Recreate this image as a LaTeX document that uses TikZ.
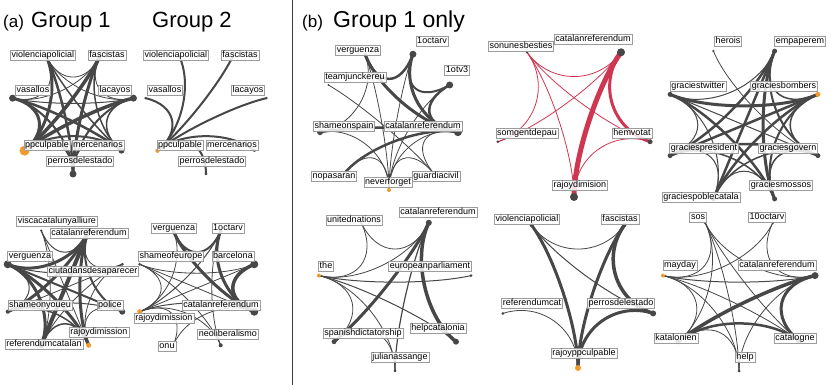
\documentclass[tikz,border=0pt]{standalone}
\usepackage{fontspec}
\setmainfont{Liberation Sans}
\usepackage{xcolor}
\definecolor{netgray}{HTML}{474747}
\definecolor{netorange}{HTML}{F39A2C}
\definecolor{netred}{HTML}{CF3652}
\definecolor{boxgray}{HTML}{9C9C9C}
\definecolor{rulegray}{HTML}{3A3A3A}
\usepackage{tikz}
\usetikzlibrary{
  calc,
  backgrounds,
}

% curved tie between two hashtags, pulled toward the panel centre
\newcommand{\tagedge}[5][]{%
  \draw[tagline, line width=#3pt, #1]
    (#4.center) .. controls ($(#4)!0.5!(#2)$) and ($(#5)!0.5!(#2)$) .. (#5.center);}

\begin{document}
\begin{tikzpicture}[
  x=1pt, y=1pt,
  vtx/.style={
    circle,
    fill=netgray,
    inner sep=0pt,
    minimum size=#1pt,
  },
  hubvtx/.style={
    vtx=#1,
    fill=netorange,
  },
  tagline/.style={
    draw=netgray,
    line cap=round,
  },
  redline/.style={
    draw=netred,
  },
  tagbox/.style={
    draw=boxgray,
    line width=0.5pt,
    fill=white,
    fill opacity=0.85,
    text opacity=1,
    inner xsep=1.3pt,
    inner ysep=0.6pt,
    text height=6.5pt,
    text depth=1.9pt,
    font=\fontsize{9}{10}\selectfont,
  },
  paneltitle/.style={
    anchor=base west,
    inner sep=0pt,
    font=\fontsize{22}{24}\selectfont,
  },
  panelletter/.style={
    anchor=base west,
    inner sep=0pt,
    font=\fontsize{17}{19}\selectfont,
  },
]

\useasboundingbox (0,0) rectangle (831,385);
\begin{scope}[on background layer]
  \fill[white] (0,0) rectangle (831,385);
\end{scope}

% =============================================================================
% Titles and separator
% =============================================================================
\node[panelletter] (lettera) at (3,357) {(a)};
\node[paneltitle] (titlea1) at (31,357) {Group 1};
\node[paneltitle] (titlea2) at (152,357) {Group 2};
\node[panelletter] (letterb) at (302,357) {(b)};
\node[paneltitle, font=\fontsize{23}{25}\selectfont] (titleb) at (333,357) {Group 1 only};

\coordinate (ruletop) at (292.5,385);
\coordinate (rulebot) at (292.5,0);
\draw[rulegray, line width=1.5pt] (ruletop) -- (rulebot);

% =============================================================================
% (a) Group 1, top
% =============================================================================
\coordinate (ca1) at (73,273);
\node[vtx=7] (a1pe) at ([shift={(270:62)}]ca1) {};
\node[vtx=6] (a1me) at ([shift={(321.4:62)}]ca1) {};
\node[vtx=7] (a1la) at ([shift={(12.9:62)}]ca1) {};
\node[vtx=4] (a1fa) at ([shift={(64.3:62)}]ca1) {};
\node[vtx=4] (a1vi) at ([shift={(115.7:62)}]ca1) {};
\node[vtx=7] (a1va) at ([shift={(167.1:62)}]ca1) {};
\node[hubvtx=10] (a1pp) at ([shift={(218.6:62)}]ca1) {};

\begin{scope}[on background layer]
  \tagedge{ca1}{3}{a1pp}{a1vi}
  \tagedge{ca1}{3.5}{a1pp}{a1fa}
  \tagedge{ca1}{3}{a1pp}{a1va}
  \tagedge{ca1}{3.5}{a1pp}{a1la}
  \tagedge{ca1}{2}{a1pp}{a1me}
  \tagedge{ca1}{2.5}{a1pp}{a1pe}
  \tagedge{ca1}{0.8}{a1vi}{a1fa}
  \tagedge{ca1}{0.8}{a1vi}{a1va}
  \tagedge{ca1}{0.8}{a1vi}{a1la}
  \tagedge{ca1}{1.5}{a1vi}{a1me}
  \tagedge{ca1}{2.5}{a1vi}{a1pe}
  \tagedge{ca1}{0.8}{a1fa}{a1va}
  \tagedge{ca1}{0.8}{a1fa}{a1la}
  \tagedge{ca1}{1.5}{a1fa}{a1me}
  \tagedge{ca1}{3}{a1fa}{a1pe}
  \tagedge{ca1}{1}{a1va}{a1la}
  \tagedge{ca1}{2.5}{a1va}{a1me}
  \tagedge{ca1}{2}{a1va}{a1pe}
  \tagedge{ca1}{1.5}{a1la}{a1me}
  \tagedge{ca1}{2}{a1la}{a1pe}
  \tagedge{ca1}{1}{a1me}{a1pe}
\end{scope}

\node[tagbox] (l1vi) at (43,330) {violenciapolicial};
\node[tagbox] (l1fa) at (107,330) {fascistas};
\node[tagbox] (l1va) at (33,295) {vasallos};
\node[tagbox] (l1la) at (115,295) {lacayos};
\node[tagbox] (l1pp) at (47,240) {ppculpable};
\node[tagbox] (l1me) at (98,240) {mercenarios};
\node[tagbox] (l1pe) at (80,224) {perrosdelestado};

% =============================================================================
% (a) Group 2, top
% =============================================================================
\coordinate (ca2) at (206,273);
\node[vtx=3] (a2pe) at ([shift={(270:62)}]ca2) {};
\node[vtx=3] (a2me) at ([shift={(321.4:62)}]ca2) {};
\node[vtx=2.5] (a2la) at ([shift={(12.9:62)}]ca2) {};
\node[vtx=2.5] (a2fa) at ([shift={(64.3:62)}]ca2) {};
\node[vtx=2.5] (a2vi) at ([shift={(115.7:62)}]ca2) {};
\node[vtx=2.5] (a2va) at ([shift={(167.1:62)}]ca2) {};
\node[hubvtx=4.5] (a2pp) at ([shift={(218.6:62)}]ca2) {};

\begin{scope}[on background layer]
  \tagedge{ca2}{2}{a2pp}{a2vi}
  \tagedge{ca2}{2}{a2pp}{a2fa}
  \tagedge{ca2}{2}{a2pp}{a2va}
  \tagedge{ca2}{2}{a2pp}{a2la}
  \tagedge{ca2}{2}{a2pp}{a2me}
  \tagedge{ca2}{2}{a2pp}{a2pe}
\end{scope}

\node[tagbox] (l2vi) at (176,330) {violenciapolicial};
\node[tagbox] (l2fa) at (240,330) {fascistas};
\node[tagbox] (l2va) at (165,295) {vasallos};
\node[tagbox] (l2la) at (248,295) {lacayos};
\node[tagbox] (l2pp) at (180,240) {ppculpable};
\node[tagbox] (l2me) at (232,240) {mercenarios};
\node[tagbox] (l2pe) at (212,224) {perrosdelestado};

% =============================================================================
% (a) Group 1, bottom
% =============================================================================
\coordinate (ca3) at (65,97);
\node[vtx=5] (a3cr) at ([shift={(67.5:62)}]ca3) {};
\node[vtx=2.5] (a3vc) at ([shift={(112.5:62)}]ca3) {};
\node[vtx=8] (a3vg) at ([shift={(157.5:62)}]ca3) {};
\node[vtx=4] (a3sh) at ([shift={(202.5:62)}]ca3) {};
\node[vtx=6] (a3rc) at ([shift={(247.5:62)}]ca3) {};
\node[hubvtx=5] (a3rd) at ([shift={(292.5:62)}]ca3) {};
\node[vtx=6] (a3po) at ([shift={(337.5:62)}]ca3) {};
\node[vtx=3] (a3ci) at ([shift={(22.5:62)}]ca3) {};

\begin{scope}[on background layer]
  \tagedge{ca3}{4}{a3cr}{a3rc}
  \tagedge{ca3}{3}{a3cr}{a3sh}
  \tagedge{ca3}{3}{a3cr}{a3vg}
  \tagedge{ca3}{3}{a3cr}{a3rd}
  \tagedge{ca3}{2}{a3cr}{a3po}
  \tagedge{ca3}{1}{a3cr}{a3vc}
  \tagedge{ca3}{0.8}{a3cr}{a3ci}
  \tagedge{ca3}{3}{a3vg}{a3rd}
  \tagedge{ca3}{3}{a3vg}{a3rc}
  \tagedge{ca3}{2}{a3vg}{a3po}
  \tagedge{ca3}{1}{a3vg}{a3ci}
  \tagedge{ca3}{1}{a3vg}{a3sh}
  \tagedge{ca3}{0.8}{a3vc}{a3rd}
  \tagedge{ca3}{0.8}{a3vc}{a3rc}
  \tagedge{ca3}{0.8}{a3ci}{a3sh}
  \tagedge{ca3}{0.8}{a3ci}{a3rc}
  \tagedge{ca3}{0.8}{a3ci}{a3rd}
  \tagedge{ca3}{1.5}{a3sh}{a3rd}
  \tagedge{ca3}{1}{a3sh}{a3po}
  \tagedge{ca3}{0.8}{a3po}{a3rd}
  \tagedge{ca3}{1.5}{a3rc}{a3rd}
\end{scope}

\node[tagbox] (l3vc) at (57,164) {viscacatalunyalliure};
\node[tagbox] (l3cr) at (89,152) {catalanreferendum};
\node[tagbox] (l3vg) at (30,129) {verguenza};
\node[tagbox] (l3ci) at (93,114) {ciutadansdesaparecer};
\node[tagbox] (l3sh) at (40,80) {shameonyoueu};
\node[tagbox] (l3po) at (110,80) {police};
\node[tagbox] (l3rd) at (99,53) {rajoydimission};
\node[tagbox] (l3rc) at (44,41) {referendumcatalan};

% =============================================================================
% (a) Group 2, bottom
% =============================================================================
\coordinate (ca4) at (197,97);
\node[vtx=4] (a4oc) at ([shift={(67.5:62)}]ca4) {};
\node[vtx=4] (a4vg) at ([shift={(112.5:62)}]ca4) {};
\node[vtx=3] (a4se) at ([shift={(157.5:62)}]ca4) {};
\node[hubvtx=5] (a4rd) at ([shift={(202.5:62)}]ca4) {};
\node[vtx=3] (a4on) at ([shift={(247.5:62)}]ca4) {};
\node[vtx=4] (a4ne) at ([shift={(292.5:62)}]ca4) {};
\node[vtx=8] (a4cr) at ([shift={(337.5:62)}]ca4) {};
\node[vtx=8] (a4ba) at ([shift={(22.5:62)}]ca4) {};

\begin{scope}[on background layer]
  \tagedge{ca4}{3}{a4vg}{a4cr}
  \tagedge{ca4}{3}{a4oc}{a4cr}
  \tagedge{ca4}{2}{a4oc}{a4vg}
  \tagedge{ca4}{3.5}{a4cr}{a4ba}
  \tagedge{ca4}{1}{a4oc}{a4rd}
  \tagedge{ca4}{0.8}{a4ba}{a4rd}
  \tagedge{ca4}{1}{a4rd}{a4cr}
  \tagedge{ca4}{0.8}{a4se}{a4rd}
  \tagedge{ca4}{0.8}{a4rd}{a4on}
  \tagedge{ca4}{0.8}{a4rd}{a4ne}
  \tagedge{ca4}{0.8}{a4se}{a4cr}
  \tagedge{ca4}{0.8}{a4se}{a4ne}
  \tagedge{ca4}{0.8}{a4on}{a4cr}
  \tagedge{ca4}{0.8}{a4oc}{a4ne}
  \tagedge{ca4}{0.8}{a4vg}{a4rd}
  \tagedge{ca4}{0.8}{a4ba}{a4se}
\end{scope}

\node[tagbox] (l4vg) at (174,157) {verguenza};
\node[tagbox] (l4oc) at (228,157) {1octarv};
\node[tagbox] (l4se) at (171,129) {shameofeurope};
\node[tagbox] (l4ba) at (233,129) {barcelona};
\node[tagbox] (l4cr) at (221,80) {catalanreferendum};
\node[tagbox] (l4rd) at (164,67) {rajoydimission};
\node[tagbox] (l4ne) at (228,51) {neoliberalismo};
\node[tagbox] (l4on) at (167,39) {onu};

% =============================================================================
% (b) Group 1 only, top left
% =============================================================================
\coordinate (cb1) at (389,265);
\node[hubvtx=4] (b1nf) at ([shift={(270:70)}]cb1) {};
\node[vtx=3] (b1gc) at ([shift={(310:70)}]cb1) {};
\node[vtx=8] (b1cr) at ([shift={(350:70)}]cb1) {};
\node[vtx=7] (b1ot) at ([shift={(30:70)}]cb1) {};
\node[vtx=7] (b1oc) at ([shift={(70:70)}]cb1) {};
\node[vtx=3] (b1vg) at ([shift={(110:70)}]cb1) {};
\node[vtx=2] (b1tj) at ([shift={(150:70)}]cb1) {};
\node[vtx=6] (b1ss) at ([shift={(190:70)}]cb1) {};
\node[vtx=3] (b1np) at ([shift={(230:70)}]cb1) {};

\begin{scope}[on background layer]
  \tagedge{cb1}{3}{b1cr}{b1oc}
  \tagedge{cb1}{2.5}{b1oc}{b1vg}
  \tagedge{cb1}{2.5}{b1cr}{b1ot}
  \tagedge{cb1}{2}{b1ot}{b1oc}
  \tagedge{cb1}{3}{b1cr}{b1vg}
  \tagedge{cb1}{2.5}{b1cr}{b1ss}
  \tagedge{cb1}{2.5}{b1np}{b1cr}
  \tagedge{cb1}{0.8}{b1tj}{b1gc}
  \tagedge{cb1}{0.8}{b1vg}{b1nf}
  \tagedge{cb1}{0.8}{b1oc}{b1nf}
  \tagedge{cb1}{0.8}{b1nf}{b1cr}
  \tagedge{cb1}{0.8}{b1ss}{b1nf}
  \tagedge{cb1}{0.8}{b1nf}{b1gc}
  \tagedge{cb1}{0.8}{b1gc}{b1cr}
  \tagedge{cb1}{0.8}{b1vg}{b1ss}
  \tagedge{cb1}{0.8}{b1nf}{b1ot}
  \tagedge{cb1}{0.8}{b1np}{b1nf}
\end{scope}

\node[tagbox] (m1vg) at (358,335) {verguenza};
\node[tagbox] (m1oc) at (432,344) {1octarv};
\node[tagbox] (m1ot) at (457,315) {1otv3};
\node[tagbox] (m1tj) at (355,308) {teamjunckereu};
\node[tagbox] (m1ss) at (344,259) {shameonspain};
\node[tagbox] (m1cr) at (423,259) {catalanreferendum};
\node[tagbox] (m1np) at (334,209) {nopasaran};
\node[tagbox] (m1nf) at (388,203) {neverforget};
\node[tagbox] (m1gc) at (436,209) {guardiacivil};

% =============================================================================
% (b) Group 1 only, top middle (red)
% =============================================================================
\coordinate (cb2) at (574,268);
\node[vtx=8] (b2rd) at ([shift={(270:80)}]cb2) {};
\node[vtx=5] (b2hv) at ([shift={(342:80)}]cb2) {};
\node[vtx=8] (b2cr) at ([shift={(54:80)}]cb2) {};
\node[vtx=2.5] (b2sb) at ([shift={(126:80)}]cb2) {};
\node[vtx=3] (b2sg) at ([shift={(198:80)}]cb2) {};

\begin{scope}[on background layer]
  \tagedge[redline]{cb2}{5}{b2rd}{b2cr}
  \tagedge[redline]{cb2}{3}{b2hv}{b2cr}
  \tagedge[redline]{cb2}{0.8}{b2cr}{b2sb}
  \tagedge[redline]{cb2}{0.8}{b2sb}{b2sg}
  \tagedge[redline]{cb2}{0.8}{b2hv}{b2sb}
  \tagedge[redline]{cb2}{0.8}{b2sb}{b2rd}
  \tagedge[redline]{cb2}{0.8}{b2cr}{b2sg}
  \tagedge[redline]{cb2}{0.8}{b2rd}{b2hv}
\end{scope}

\node[tagbox] (m2sb) at (521,339) {sonunesbesties};
\node[tagbox] (m2cr) at (593,346) {catalanreferendum};
\node[tagbox] (m2sg) at (527,252) {somgentdepau};
\node[tagbox] (m2hv) at (632,252) {hemvotat};
\node[tagbox] (m2rd) at (580,200) {rajoydimision};

% =============================================================================
% (b) Group 1 only, top right
% =============================================================================
\coordinate (cb3) at (744,260);
\node[vtx=5] (b3em) at ([shift={(67.5:80)}]cb3) {};
\node[vtx=2.5] (b3he) at ([shift={(112.5:80)}]cb3) {};
\node[vtx=5] (b3gt) at ([shift={(157.5:80)}]cb3) {};
\node[vtx=5] (b3gp) at ([shift={(202.5:80)}]cb3) {};
\node[vtx=5] (b3pc) at ([shift={(247.5:80)}]cb3) {};
\node[vtx=5] (b3gm) at ([shift={(292.5:80)}]cb3) {};
\node[vtx=5] (b3gg) at ([shift={(337.5:80)}]cb3) {};
\node[hubvtx=5] (b3gb) at ([shift={(22.5:80)}]cb3) {};

\begin{scope}[on background layer]
  \tagedge{cb3}{3}{b3em}{b3gm}
  \tagedge{cb3}{2.5}{b3em}{b3gp}
  \tagedge{cb3}{2.5}{b3em}{b3pc}
  \tagedge{cb3}{2}{b3gg}{b3em}
  \tagedge{cb3}{1}{b3em}{b3gt}
  \tagedge{cb3}{1.5}{b3gb}{b3em}
  \tagedge{cb3}{3}{b3gb}{b3gt}
  \tagedge{cb3}{2.5}{b3gt}{b3gm}
  \tagedge{cb3}{1}{b3gg}{b3gt}
  \tagedge{cb3}{1}{b3gt}{b3gp}
  \tagedge{cb3}{1}{b3gt}{b3pc}
  \tagedge{cb3}{2.5}{b3gb}{b3gp}
  \tagedge{cb3}{2.5}{b3gp}{b3gg}
  \tagedge{cb3}{1.5}{b3gp}{b3gm}
  \tagedge{cb3}{1}{b3gp}{b3pc}
  \tagedge{cb3}{2.5}{b3pc}{b3gb}
  \tagedge{cb3}{2}{b3gm}{b3gb}
  \tagedge{cb3}{1.5}{b3gg}{b3gb}
  \tagedge{cb3}{1.5}{b3gm}{b3gg}
  \tagedge{cb3}{1.5}{b3pc}{b3gg}
  \tagedge{cb3}{1}{b3pc}{b3gm}
  \tagedge{cb3}{0.8}{b3he}{b3gg}
\end{scope}

\node[tagbox] (m3he) at (728,344) {herois};
\node[tagbox] (m3em) at (800,344) {empaperem};
\node[tagbox] (m3gt) at (698,299) {graciestwitter};
\node[tagbox] (m3gb) at (784,299) {graciesbombers};
\node[tagbox] (m3gp) at (704,237) {graciespresident};
\node[tagbox] (m3gg) at (788,237) {graciesgovern};
\node[tagbox] (m3gm) at (781,200) {graciesmossos};
\node[tagbox] (m3pc) at (701,188) {graciespoblecatala};

% =============================================================================
% (b) Group 1 only, bottom left
% =============================================================================
\coordinate (cb4) at (395,92);
\node[vtx=3] (b4ja) at ([shift={(270:78)}]cb4) {};
\node[vtx=6] (b4hc) at ([shift={(321.4:78)}]cb4) {};
\node[vtx=3] (b4ep) at ([shift={(12.9:78)}]cb4) {};
\node[vtx=6] (b4cr) at ([shift={(64.3:78)}]cb4) {};
\node[vtx=3] (b4un) at ([shift={(115.7:78)}]cb4) {};
\node[hubvtx=4] (b4th) at ([shift={(167.1:78)}]cb4) {};
\node[vtx=5] (b4sd) at ([shift={(218.6:78)}]cb4) {};

\begin{scope}[on background layer]
  \tagedge{cb4}{3.5}{b4hc}{b4cr}
  \tagedge{cb4}{3}{b4cr}{b4sd}
  \tagedge{cb4}{0.8}{b4cr}{b4un}
  \tagedge{cb4}{0.8}{b4un}{b4th}
  \tagedge{cb4}{1}{b4ep}{b4th}
  \tagedge{cb4}{1}{b4th}{b4hc}
  \tagedge{cb4}{0.8}{b4cr}{b4th}
  \tagedge{cb4}{0.8}{b4th}{b4sd}
  \tagedge{cb4}{0.8}{b4th}{b4ja}
  \tagedge{cb4}{1.2}{b4ja}{b4cr}
  \tagedge{cb4}{0.8}{b4sd}{b4ja}
\end{scope}

\node[tagbox] (m4un) at (354,165) {unitednations};
\node[tagbox] (m4cr) at (438,173) {catalanreferendum};
\node[tagbox] (m4th) at (326,119) {the};
\node[tagbox] (m4ep) at (430,119) {europeanparliament};
\node[tagbox] (m4sd) at (363,52) {spanishdictatorship};
\node[tagbox] (m4hc) at (438,57) {helpcatalonia};
\node[tagbox] (m4ja) at (400,28) {julianassange};

% =============================================================================
% (b) Group 1 only, bottom middle
% =============================================================================
\coordinate (cb5) at (578,96);
\node[hubvtx=6] (b5rp) at ([shift={(270:79)}]cb5) {};
\node[vtx=6] (b5pe) at ([shift={(342:79)}]cb5) {};
\node[vtx=4] (b5fa) at ([shift={(54:79)}]cb5) {};
\node[vtx=4] (b5vi) at ([shift={(126:79)}]cb5) {};
\node[vtx=3] (b5rc) at ([shift={(198:79)}]cb5) {};

\begin{scope}[on background layer]
  \tagedge{cb5}{3}{b5vi}{b5rp}
  \tagedge{cb5}{3}{b5rp}{b5fa}
  \tagedge{cb5}{3.5}{b5pe}{b5fa}
  \tagedge{cb5}{3}{b5rp}{b5pe}
  \tagedge{cb5}{0.8}{b5fa}{b5vi}
  \tagedge{cb5}{1}{b5pe}{b5vi}
  \tagedge{cb5}{0.8}{b5rc}{b5rp}
\end{scope}

\node[tagbox] (m5vi) at (527,166) {violenciapolicial};
\node[tagbox] (m5fa) at (620,166) {fascistas};
\node[tagbox] (m5rc) at (532,82) {referendumcat};
\node[tagbox] (m5pe) at (621,82) {perrosdelestado};
\node[tagbox] (m5rp) at (584,32) {rajoyppculpable};

% =============================================================================
% (b) Group 1 only, bottom right
% =============================================================================
\coordinate (cb6) at (739,92);
\node[vtx=3] (b6he) at ([shift={(270:78)}]cb6) {};
\node[vtx=5] (b6cg) at ([shift={(321.4:78)}]cb6) {};
\node[vtx=7] (b6cr) at ([shift={(12.9:78)}]cb6) {};
\node[vtx=3] (b6oc) at ([shift={(64.3:78)}]cb6) {};
\node[vtx=3] (b6so) at ([shift={(115.7:78)}]cb6) {};
\node[hubvtx=4] (b6ma) at ([shift={(167.1:78)}]cb6) {};
\node[vtx=5] (b6ka) at ([shift={(218.6:78)}]cb6) {};

\begin{scope}[on background layer]
  \tagedge{cb6}{3.5}{b6cr}{b6ka}
  \tagedge{cb6}{3}{b6cg}{b6cr}
  \tagedge{cb6}{2.5}{b6cg}{b6ka}
  \tagedge{cb6}{0.8}{b6so}{b6ka}
  \tagedge{cb6}{0.8}{b6cg}{b6so}
  \tagedge{cb6}{0.8}{b6cr}{b6so}
  \tagedge{cb6}{0.8}{b6so}{b6ma}
  \tagedge{cb6}{0.8}{b6so}{b6he}
  \tagedge{cb6}{0.8}{b6oc}{b6ma}
  \tagedge{cb6}{0.8}{b6cr}{b6oc}
  \tagedge{cb6}{1}{b6cr}{b6ma}
  \tagedge{cb6}{0.8}{b6ma}{b6cg}
  \tagedge{cb6}{0.8}{b6ma}{b6he}
  \tagedge{cb6}{0.8}{b6ma}{b6ka}
  \tagedge{cb6}{0.8}{b6ka}{b6he}
  \tagedge{cb6}{0.8}{b6he}{b6cr}
\end{scope}

\node[tagbox] (m6so) at (698,168) {sos};
\node[tagbox] (m6oc) at (767,168) {10octarv};
\node[tagbox] (m6ma) at (680,120) {mayday};
\node[tagbox] (m6cr) at (777,120) {catalanreferendum};
\node[tagbox] (m6ka) at (676,47) {katalonien};
\node[tagbox] (m6cg) at (795,47) {catalogne};
\node[tagbox] (m6he) at (745,28) {help};

\end{tikzpicture}
\end{document}
